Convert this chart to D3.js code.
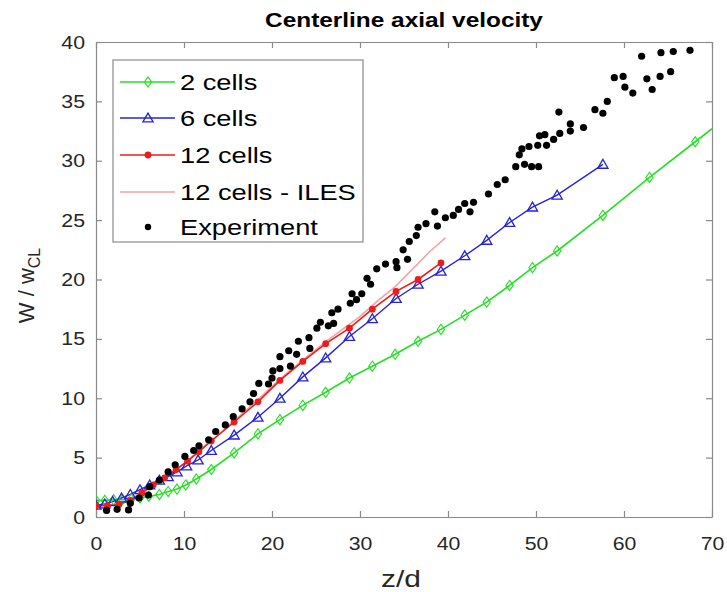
<!doctype html>
<html>
<head>
<meta charset="utf-8">
<script src="https://cdn.jsdelivr.net/npm/d3@7"></script>
<style>
  html, body { margin: 0; padding: 0; background: #fff; }
  svg { display: block; }
</style>
</head>
<body>
<script>
// --- Data (x = z/d, y = W / w_CL) ---
const cells2 = [
  [0, 1.4], [1, 1.4], [2, 1.45], [3, 1.45], [4, 1.5], [5, 1.6], [6, 1.75],
  [7.2, 1.9], [8.2, 2.15], [9.2, 2.35], [10.2, 2.7], [11.4, 3.2], [13.1, 4.0],
  [15.7, 5.4], [18.4, 7.0], [20.9, 8.2], [23.5, 9.4], [26.1, 10.5], [28.8, 11.7],
  [31.4, 12.7], [34.0, 13.7], [36.6, 14.8], [39.2, 15.8], [41.9, 17.0], [44.4, 18.1],
  [47.0, 19.5], [49.6, 21.0], [52.4, 22.4], [57.6, 25.4], [62.9, 28.6], [68.1, 31.6],
  [70, 32.7]
];
const cells2Markers = 31; // last point is the line's exit at the frame

const cells6 = [
  [0, 1.0], [1.0, 1.1], [1.9, 1.3], [2.9, 1.6], [3.9, 1.9], [5.0, 2.3], [6.1, 2.7],
  [7.2, 3.1], [8.2, 3.4], [9.2, 3.8], [10.3, 4.3], [11.6, 4.8], [13.1, 5.6],
  [15.7, 6.9], [18.4, 8.4], [20.9, 10.0], [23.5, 11.8], [26.1, 13.4], [28.8, 15.2],
  [31.4, 16.7], [34.1, 18.4], [36.6, 19.6], [39.2, 20.7], [41.9, 22.0], [44.4, 23.3],
  [47.0, 24.8], [49.6, 26.1], [52.4, 27.1], [57.6, 29.7]
];

const cells12 = [
  [0, 0.95], [1.3, 0.95], [2.6, 1.05], [3.9, 1.4], [5.2, 2.0], [6.5, 2.7], [7.8, 3.3],
  [9.1, 4.0], [10.4, 4.7], [11.7, 5.5], [13.1, 6.4], [15.7, 8.0], [18.4, 9.7],
  [20.9, 11.5], [23.5, 13.1], [26.1, 14.6], [28.8, 15.9], [31.4, 17.5], [34.1, 19.0],
  [36.6, 20.0], [39.2, 21.4]
];

const cells12Iles = [
  [0, 1.0], [2, 1.0], [4, 1.5], [6, 2.5], [8, 3.4], [10, 4.5], [12, 5.8], [14, 7.0],
  [16, 8.3], [18, 9.6], [20, 11.0], [22, 12.3], [24, 13.5], [26, 14.7], [28, 15.8],
  [30, 16.9], [32, 18.2], [34, 19.4], [36, 20.9], [38, 22.4], [39.7, 23.5]
];

const experiment = [
  [1.2, 0.55], [2.4, 0.65], [3.7, 0.6], [3.9, 1.15], [4.9, 1.6], [5.95, 1.85], [6.1, 2.55],
  [7.2, 3.1], [8.2, 3.8], [9.0, 4.4], [10.1, 5.1], [11.1, 5.6], [11.7, 6.0], [12.8, 6.5],
  [13.6, 7.2], [14.7, 7.75], [15.6, 8.45], [16.6, 9.1], [17.5, 9.7], [17.9, 10.4],
  [18.5, 11.25], [19.6, 11.2], [20.0, 11.7], [20.1, 12.3], [20.9, 12.5], [20.9, 13.5],
  [21.9, 14.0], [22.1, 12.7], [22.8, 13.7], [23.0, 14.8], [24.2, 15.1], [24.3, 14.2],
  [25.1, 15.9], [25.5, 16.4], [26.4, 16.1], [26.8, 17.2], [27.0, 16.3], [27.5, 17.5],
  [28.9, 18.0], [29.1, 18.8], [29.6, 18.3], [30.2, 18.8], [30.8, 20.1], [31.2, 19.6],
  [31.9, 20.9], [32.9, 21.3], [34.1, 21.5], [34.2, 21.0], [34.9, 22.5], [35.4, 21.7],
  [35.6, 23.2], [36.4, 23.7], [36.6, 24.4], [37.5, 24.7], [38.5, 25.7], [38.8, 24.5],
  [39.7, 25.2], [40.6, 25.4], [41.2, 25.9], [41.9, 26.4], [42.5, 25.7], [42.9, 26.5],
  [44.6, 27.2], [45.6, 28.0], [46.5, 28.4], [47.7, 29.5], [48.1, 30.5], [48.4, 31.0],
  [48.7, 29.7], [49.2, 31.2], [49.5, 29.5], [50.2, 31.3], [50.3, 29.5], [50.4, 32.1],
  [51.0, 32.2], [51.2, 31.3], [52.0, 31.8], [52.6, 34.1], [52.7, 32.3], [53.9, 32.5],
  [53.9, 33.1], [55.4, 32.8], [56.7, 34.3], [57.6, 34.0], [58.1, 35.0], [58.9, 37.0],
  [59.9, 37.1], [60.1, 36.2], [61.0, 35.7], [62.0, 38.8], [62.6, 36.9], [63.2, 36.0],
  [64.1, 37.1], [64.2, 39.1], [65.3, 37.5], [65.6, 39.2], [67.5, 39.3]
];

const xTicks = [0, 10, 20, 30, 40, 50, 60, 70];
const yTicks = [0, 5, 10, 15, 20, 25, 30, 35, 40];
const legendLabels = ["2 cells", "6 cells", "12 cells", "12 cells - ILES", "Experiment"];

// --- Layout ---
const width = 727;
const height = 592;
const margin = { top: 42, right: 15, bottom: 75, left: 96 };

const GREEN = "#22e022";
const BLUE = "#2424d8";
const RED = "#ee1c1c";
const PINK = "#f5a3a3";
const AXIS = "#8a8a8a";
const TEXT = "#262626";
const FONT = "'Liberation Sans', Arial, Helvetica, sans-serif";
const STRETCH = 1.22; // the source picture is horizontally stretched

const x = d3.scaleLinear().domain([0, 70]).range([margin.left, width - margin.right]);
const y = d3.scaleLinear().domain([0, 40]).range([height - margin.bottom, margin.top]);

const svg = d3.select("body").append("svg")
  .attr("width", width)
  .attr("height", height)
  .attr("viewBox", `0 0 ${width} ${height}`)
  .style("font-family", FONT);

svg.append("rect").attr("width", width).attr("height", height).attr("fill", "white");

// clip for lines running into the frame
svg.append("defs").append("clipPath").attr("id", "plot-clip")
  .append("rect")
  .attr("x", x(0)).attr("y", y(40))
  .attr("width", x(70) - x(0)).attr("height", y(0) - y(40));

// stretched text placed at (px, py)
function wideText(parent, px, py, sx) {
  return parent.append("text")
    .attr("transform", `translate(${px},${py}) scale(${sx},1)`);
}

// Axes (inward ticks, box on)
const tickLen = 6;
function styleAxis(g) {
  g.select(".domain").attr("stroke", AXIS).attr("stroke-width", 1.2);
  g.selectAll(".tick line").attr("stroke", AXIS).attr("stroke-width", 1.2);
  g.selectAll(".tick text").attr("fill", TEXT).attr("font-size", 19).attr("font-family", FONT);
}

svg.append("g")
  .attr("transform", `translate(0,${y(0)})`)
  .call(d3.axisBottom(x).tickValues(xTicks).tickSizeInner(-tickLen).tickSizeOuter(0).tickPadding(20))
  .call(styleAxis)
  .call((g) => g.selectAll(".tick text").attr("transform", "scale(1.12,1)"));

svg.append("g")
  .attr("transform", `translate(0,${y(40)})`)
  .call(d3.axisTop(x).tickValues(xTicks).tickSizeInner(-tickLen).tickSizeOuter(0).tickFormat(""))
  .call(styleAxis);

svg.append("g")
  .attr("transform", `translate(${x(0)},0)`)
  .call(d3.axisLeft(y).tickValues(yTicks).tickSizeInner(-tickLen).tickSizeOuter(0).tickPadding(11))
  .call(styleAxis)
  .call((g) => g.selectAll(".tick text").attr("transform", "translate(-11,0) scale(1.12,1) translate(11,0)"));

svg.append("g")
  .attr("transform", `translate(${x(70)},0)`)
  .call(d3.axisRight(y).tickValues(yTicks).tickSizeInner(-tickLen).tickSizeOuter(0).tickFormat(""))
  .call(styleAxis);

// Title + axis labels
wideText(svg, (x(0) + x(70)) / 2, 27, STRETCH)
  .attr("text-anchor", "middle")
  .attr("font-size", 20)
  .attr("font-weight", 700)
  .attr("fill", "#000")
  .text("Centerline axial velocity");

wideText(svg, 401, 587, 1.3)
  .attr("text-anchor", "middle")
  .attr("font-size", 23)
  .attr("fill", TEXT)
  .text("z/d");

const ylab = svg.append("text")
  .attr("transform", `translate(34,${(y(0) + y(40)) / 2 + 6}) rotate(-90)`)
  .attr("text-anchor", "middle")
  .attr("font-size", 22)
  .attr("fill", TEXT);
ylab.append("tspan").text("W / w");
ylab.append("tspan").attr("font-size", 16).attr("dy", 6).text("CL");

// Series
const plot = svg.append("g").attr("clip-path", "url(#plot-clip)");
const line = d3.line().x((d) => x(d[0])).y((d) => y(d[1]));

plot.append("path").datum(cells12Iles)
  .attr("fill", "none").attr("stroke", PINK).attr("stroke-width", 1.6).attr("d", line);

plot.append("path").datum(cells2)
  .attr("fill", "none").attr("stroke", GREEN).attr("stroke-width", 1.6).attr("d", line);

plot.append("path").datum(cells6)
  .attr("fill", "none").attr("stroke", BLUE).attr("stroke-width", 1.4).attr("d", line);

plot.append("path").datum(cells12)
  .attr("fill", "none").attr("stroke", RED).attr("stroke-width", 1.6).attr("d", line);

const diamond = d3.symbol().type(d3.symbolDiamond2).size(60);
const triangle = d3.symbol().type(d3.symbolTriangle2).size(75);

plot.append("g").selectAll("path")
  .data(cells2.slice(0, cells2Markers))
  .join("path")
  .attr("transform", (d) => `translate(${x(d[0])},${y(d[1])}) scale(0.75,1.05)`)
  .attr("d", diamond)
  .attr("fill", "none").attr("stroke", GREEN).attr("stroke-width", 1.3);

plot.append("g").selectAll("path")
  .data(cells6)
  .join("path")
  .attr("transform", (d) => `translate(${x(d[0])},${y(d[1]) + 1})`)
  .attr("d", triangle)
  .attr("fill", "none").attr("stroke", BLUE).attr("stroke-width", 1.3);

plot.append("g").selectAll("circle")
  .data(cells12)
  .join("circle")
  .attr("cx", (d) => x(d[0])).attr("cy", (d) => y(d[1]))
  .attr("r", 3.4).attr("fill", RED);

svg.append("g").selectAll("circle")
  .data(experiment)
  .join("circle")
  .attr("cx", (d) => x(d[0])).attr("cy", (d) => y(d[1]))
  .attr("r", 3.6).attr("fill", "#000");

// Legend
const lg = svg.append("g").attr("transform", "translate(113,60)");
lg.append("rect")
  .attr("width", 250).attr("height", 182)
  .attr("fill", "white").attr("stroke", AXIS).attr("stroke-width", 1.2);

const legendRowY = [22, 58, 95, 132, 167];
const legendStyle = [
  { color: GREEN, kind: "diamond" },
  { color: BLUE, kind: "triangle" },
  { color: RED, kind: "dot" },
  { color: PINK, kind: "none" },
  { color: "#000", kind: "scatter" },
];

legendLabels.forEach((label, i) => {
  const ry = legendRowY[i];
  const st = legendStyle[i];
  const row = lg.append("g").attr("transform", `translate(0,${ry})`);
  if (st.kind !== "scatter") {
    row.append("line")
      .attr("x1", 7).attr("x2", 62).attr("y1", 0).attr("y2", 0)
      .attr("stroke", st.color).attr("stroke-width", 1.6);
  }
  if (st.kind === "diamond") {
    row.append("path").attr("d", diamond)
      .attr("transform", "translate(35,0) scale(0.75,1.05)")
      .attr("fill", "none").attr("stroke", st.color).attr("stroke-width", 1.3);
  } else if (st.kind === "triangle") {
    row.append("path").attr("d", triangle)
      .attr("transform", "translate(35,1)")
      .attr("fill", "none").attr("stroke", st.color).attr("stroke-width", 1.3);
  } else if (st.kind === "dot") {
    row.append("circle").attr("cx", 35).attr("cy", 0).attr("r", 3.4).attr("fill", st.color);
  } else if (st.kind === "scatter") {
    row.append("circle").attr("cx", 35).attr("cy", 0).attr("r", 3.2).attr("fill", st.color);
  }
  wideText(row, 67, 8, 1.24)
    .attr("font-size", 22)
    .attr("fill", "#000")
    .text(label);
});
</script>
</body>
</html>
